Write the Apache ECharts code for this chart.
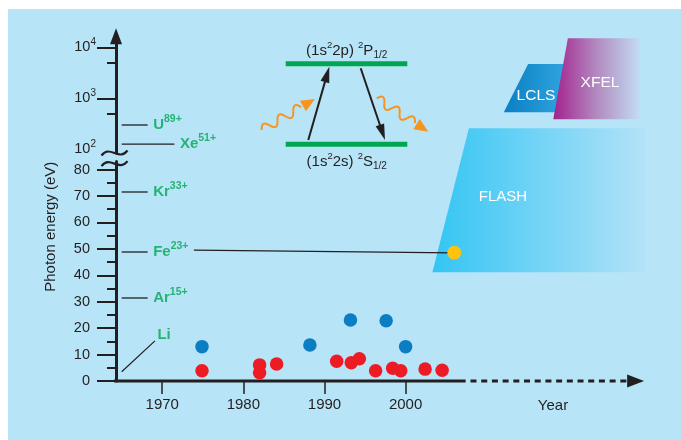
<!DOCTYPE html>
<html>
<head>
<meta charset="utf-8">
<script src="https://cdn.jsdelivr.net/npm/echarts@6/dist/echarts.min.js"></script>
<style>
  html, body { margin: 0; padding: 0; background: #fff; }
  #chart { width: 681px; height: 440px; }
</style>
</head>
<body>
<div id="chart"></div>
<script>
// x = year, y = photon energy (eV); linear below the break, log10 above it
const yearTicks = [1970, 1980, 1990, 2000];
const linTicks = [0, 10, 20, 30, 40, 50, 60, 70, 80];
const linMinor = [5, 15, 25, 35, 45, 55, 65, 75];
const logTicks = [2, 3, 4];          // labelled 10^2 .. 10^4
const logMajorTicks = [3, 4];
const logMinor = [500, 5000];

// measurements: red / blue dots, FLASH measurement (yellow)
const redPoints = [[1974.9, 3.9], [1982.0, 6.1], [1982.0, 3.1], [1984.1, 6.4], [1991.5, 7.5], [1993.3, 6.9],
                   [1994.3, 8.4], [1996.3, 3.9], [1998.4, 4.8], [1999.4, 3.9], [2002.4, 4.5], [2004.5, 4.1]];
const bluePoints = [[1974.9, 13.0], [1988.2, 13.6], [1993.2, 23.1], [1997.6, 22.8], [2000.0, 13.0]];
const flashPoint = [[2006.0, 48.5]];

// Li-like ions, 2s-2p transition energy (eV)
const ionNames = ['U', 'Xe', 'Kr', 'Fe', 'Ar'];
const ionCharges = ['89+', '51+', '33+', '23+', '15+'];
const ionEnergies = [300, 127, 71.5, 48.8, 31.4];
const ionLineStart = 1965.0;
const ionLineEnd = [1968.2, 1971.5, 1968.2, 1968.2, 1968.2];
const liLine = [[1965.0, 3.5], [1969.1, 15.2]];
const feLink = [[1973.9, 49.5], [2006.0, 48.5]];

// facility ranges (year, eV)
const flashRegion = [[2003.3, 41.1], [2007.8, 258], [2029.5, 258], [2029.5, 41.1]];
const lclsRegion = [[2012.1, 531], [2015.1, 4710], [2020.9, 4710], [2019.0, 531]];
const xfelRegion = [[2018.2, 387], [2020.0, 15000], [2028.9, 15000], [2028.9, 387]];

const X_MIN = 1964.3, X_MAX = 2030;
const LIN_MAX = 83;
const GREEN = '#00a651', INK = '#231f20', BG = '#b8e4f8';
const FONT = '"Liberation Sans", Arial, Helvetica, sans-serif';

function axesFor(e) {
  return e > LIN_MAX ? { xAxisIndex: 1, yAxisIndex: 2 } : { xAxisIndex: 0, yAxisIndex: 0 };
}
function yv(e) {
  return e > LIN_MAX ? Math.log10(e) : e;
}

const ionRich = {
  n: { fontFamily: FONT, fontSize: 15, fontWeight: 'bold', color: GREEN, lineHeight: 22 },
  c: { fontFamily: FONT, fontSize: 10.5, fontWeight: 'bold', color: GREEN, lineHeight: 10, verticalAlign: 'top' }
};

const series = [];

// x axis: solid part, then dashed continuation with arrow
series.push({
  type: 'line', xAxisIndex: 0, yAxisIndex: 0, silent: true, clip: false, symbol: 'none', z: 4,
  data: [[1961.96, 0], [2007.4, 0]],
  lineStyle: { color: INK, width: 3 }
});
series.push({
  type: 'line', xAxisIndex: 0, yAxisIndex: 0, silent: true, clip: false, symbol: 'none', z: 4,
  data: [[2008.0, 0], { value: [2028.35, 0], symbol: 'triangle', symbolSize: [13, 17], symbolRotate: -90 }],
  itemStyle: { color: INK },
  lineStyle: { color: INK, width: 3, type: [6, 4.7] }
});

// ion markers
ionNames.forEach(function (name, i) {
  const e = ionEnergies[i];
  const ax = axesFor(e);
  series.push(Object.assign({
    type: 'line', silent: true, clip: false, symbol: 'none', z: 3,
    data: [[ionLineStart, yv(e)], [ionLineEnd[i], yv(e)]],
    lineStyle: { color: INK, width: 1.3 }
  }, ax));
  series.push(Object.assign({
    type: 'scatter', silent: true, clip: false, symbolSize: 1, z: 3,
    itemStyle: { color: 'rgba(0,0,0,0)' },
    data: [[ionLineEnd[i], yv(e)]],
    label: {
      show: true, position: 'right', distance: 5,
      formatter: '{n|' + name + '}{c|' + ionCharges[i] + '}',
      rich: ionRich
    }
  }, ax));
});

series.push({
  type: 'line', xAxisIndex: 0, yAxisIndex: 0, silent: true, clip: false, symbol: 'none', z: 3,
  data: liLine, lineStyle: { color: INK, width: 1.2 }
});
series.push({
  type: 'scatter', xAxisIndex: 0, yAxisIndex: 0, silent: true, clip: false, symbolSize: 1, z: 3,
  itemStyle: { color: 'rgba(0,0,0,0)' },
  data: [liLine[1]],
  label: { show: true, position: 'right', distance: 2, offset: [0, -6], formatter: '{n|Li}', rich: ionRich }
});

series.push({
  type: 'line', xAxisIndex: 0, yAxisIndex: 0, silent: true, clip: false, symbol: 'none', z: 3,
  data: feLink, lineStyle: { color: INK, width: 1.2 }
});

series.push({
  type: 'scatter', xAxisIndex: 0, yAxisIndex: 0, silent: true, z: 5,
  data: bluePoints, symbolSize: 13.5, itemStyle: { color: '#0b7dc3', opacity: 1 }
});
series.push({
  type: 'scatter', xAxisIndex: 0, yAxisIndex: 0, silent: true, z: 5,
  data: redPoints, symbolSize: 13.5, itemStyle: { color: '#ed1c24', opacity: 1 }
});
series.push({
  type: 'scatter', xAxisIndex: 0, yAxisIndex: 0, silent: true, z: 6,
  data: flashPoint, symbolSize: 14, itemStyle: { color: '#ffc20e', opacity: 1 }
});

const tickStyle = { color: INK, width: 2 };

const option = {
  animation: false,
  backgroundColor: '#ffffff',
  grid: [
    { left: 116, right: 32, top: 161.6, bottom: 59 },
    { left: 116, right: 32, top: 36.3, height: 116.6 }
  ],
  xAxis: [
    {
      gridIndex: 0, type: 'value', min: X_MIN, max: X_MAX,
      axisLine: { show: false }, splitLine: { show: false },
      axisTick: { show: true, customValues: yearTicks, length: 13, lineStyle: { color: INK, width: 1.5 } },
      axisLabel: {
        show: true, customValues: yearTicks, margin: 16, color: INK, fontSize: 15, fontFamily: FONT,
        formatter: function (v) { return String(v); }
      }
    },
    { gridIndex: 1, type: 'value', min: X_MIN, max: X_MAX, show: false }
  ],
  yAxis: [
    {
      gridIndex: 0, type: 'value', position: 'left', min: 0, max: LIN_MAX,
      splitLine: { show: false },
      axisLine: { show: true, lineStyle: { color: INK, width: 3 } },
      axisTick: { show: true, customValues: linTicks, length: 19, lineStyle: tickStyle },
      axisLabel: { show: true, customValues: linTicks, margin: 26, color: INK, fontSize: 14.5, fontFamily: FONT }
    },
    {
      gridIndex: 0, type: 'value', position: 'left', min: 0, max: LIN_MAX,
      splitLine: { show: false }, axisLine: { show: false },
      axisTick: { show: true, customValues: linMinor, length: 9, lineStyle: tickStyle },
      axisLabel: { show: false }
    },
    {
      gridIndex: 1, type: 'value', position: 'left', min: 1.93, max: 4.216,
      splitLine: { show: false },
      axisLine: { show: true, symbol: ['none', 'triangle'], symbolSize: [12, 16], lineStyle: { color: INK, width: 3 } },
      axisTick: { show: true, customValues: logMajorTicks, length: 19, lineStyle: tickStyle },
      axisLabel: {
        show: true, customValues: logTicks, margin: 20,
        formatter: function (v) { return '{b|10}{s|' + v + '}'; },
        rich: {
          b: { fontSize: 14.5, lineHeight: 20, color: INK, fontFamily: FONT },
          s: { fontSize: 10, lineHeight: 12, verticalAlign: 'top', color: INK, fontFamily: FONT }
        }
      }
    },
    {
      gridIndex: 1, type: 'value', position: 'left', min: 1.93, max: 4.216,
      splitLine: { show: false }, axisLine: { show: false },
      axisTick: { show: true, customValues: logMinor.map(Math.log10), length: 9, lineStyle: tickStyle },
      axisLabel: { show: false }
    }
  ],
  series: series
};

const chart = echarts.init(document.getElementById('chart'));
chart.setOption(option);

function toPx(p) {
  const ax = axesFor(p[1]);
  return chart.convertToPixel(ax, [p[0], yv(p[1])]);
}

function region(points, stops, z) {
  return {
    type: 'polygon', silent: true, z: z,
    shape: { points: points.map(toPx) },
    style: { fill: new echarts.graphic.LinearGradient(0, 0, 1, 0, stops) }
  };
}

function arrow(x1, y1, x2, y2, headLen, headW, width, color) {
  const len = Math.hypot(x2 - x1, y2 - y1);
  return {
    type: 'group', x: x1, y: y1, rotation: Math.atan2(-(y2 - y1), x2 - x1), silent: true, z: 5,
    children: [
      { type: 'line', shape: { x1: 0, y1: 0, x2: len - headLen + 1, y2: 0 }, style: { stroke: color, lineWidth: width } },
      { type: 'polygon', shape: { points: [[len - headLen, -headW / 2], [len, 0], [len - headLen, headW / 2]] }, style: { fill: color } }
    ]
  };
}

// wavy photon arrow, built from half-wave bezier pieces
function waveArrow(x1, y1, x2, y2) {
  const len = Math.hypot(x2 - x1, y2 - y1);
  const halves = 5, step = (len - 16) / halves;
  const children = [];
  for (let i = 0; i < halves; i++) {
    children.push({
      type: 'bezierCurve',
      shape: { x1: i * step, y1: 0, x2: (i + 1) * step, y2: 0, cpx1: (i + 0.5) * step, cpy1: i % 2 ? 9 : -9 },
      style: { stroke: '#f7941d', lineWidth: 2, fill: null }
    });
  }
  children.push({ type: 'polygon', shape: { points: [[len - 14, -6], [len, 0], [len - 14, 6]] }, style: { fill: '#f7941d' } });
  return {
    type: 'group', x: x1, y: y1, rotation: Math.atan2(-(y2 - y1), x2 - x1), silent: true, z: 5,
    children: children
  };
}

function breakMark(dy) {
  return {
    type: 'bezierCurve', silent: true, z: 9,
    shape: { x1: 101.5, y1: 155.5 + dy, x2: 127.5, y2: 150.5 + dy, cpx1: 110, cpy1: 144 + dy, cpx2: 119, cpy2: 162 + dy },
    style: { stroke: INK, lineWidth: 2.2, fill: null }
  };
}

const levelRich = {
  m: { fontSize: 15, lineHeight: 20, fill: INK, fontFamily: FONT },
  u: { fontSize: 9.5, lineHeight: 13, verticalAlign: 'top', fill: INK, fontFamily: FONT },
  d: { fontSize: 10, lineHeight: 10, verticalAlign: 'bottom', fill: INK, fontFamily: FONT }
};

function label(text, x, y, size, color, extra) {
  return Object.assign({
    type: 'text', x: x, y: y, silent: true, z: 6,
    style: {
      text: text, fill: color, fontSize: size, fontFamily: FONT,
      align: 'center', verticalAlign: 'middle', textAlign: 'center', textVerticalAlign: 'middle'
    }
  }, extra || {});
}

chart.setOption({
  graphic: [
    { type: 'rect', silent: true, z: -100, shape: { x: 8, y: 9, width: 700, height: 440 }, style: { fill: BG } },

    region(flashRegion, [{ offset: 0, color: '#33c5f3' }, { offset: 1, color: '#b3e2f8' }], -5),
    region(lclsRegion, [{ offset: 0, color: '#0a7fc3' }, { offset: 1, color: '#35aae2' }], -5),
    region(xfelRegion, [{ offset: 0, color: '#a3228e' }, { offset: 0.5, color: '#b28ac0' }, { offset: 1, color: '#c2ddf3' }], -4),
    label('FLASH', 503, 197, 15, '#ffffff'),
    label('LCLS', 536, 96, 15.5, '#ffffff'),
    label('XFEL', 600, 83, 15.5, '#ffffff'),

    // axis break
    breakMark(0),
    breakMark(10.6),

    label('Photon energy (eV)', 51, 226.7, 15, INK, { rotation: Math.PI / 2 }),
    label('Year', 553, 406, 15, INK),

    // level scheme
    { type: 'rect', silent: true, z: 5, shape: { x: 285.7, y: 61.2, width: 121.6, height: 5 }, style: { fill: GREEN } },
    { type: 'rect', silent: true, z: 5, shape: { x: 285.7, y: 141.8, width: 121.6, height: 5 }, style: { fill: GREEN } },
    {
      type: 'text', x: 346.7, y: 50.7, silent: true, z: 6,
      style: {
        text: '{m|(1s}{u|2}{m|2p) }{u|2}{m|P}{d|1/2}', rich: levelRich,
        align: 'center', verticalAlign: 'middle', textAlign: 'center', textVerticalAlign: 'middle'
      }
    },
    {
      type: 'text', x: 346.7, y: 161.7, silent: true, z: 6,
      style: {
        text: '{m|(1s}{u|2}{m|2s) }{u|2}{m|S}{d|1/2}', rich: levelRich,
        align: 'center', verticalAlign: 'middle', textAlign: 'center', textVerticalAlign: 'middle'
      }
    },
    arrow(308.3, 140, 329.3, 66.7, 16, 9, 2, INK),
    arrow(360.7, 68.3, 385, 140, 16, 9, 2, INK),
    waveArrow(261.7, 130, 315, 99),
    waveArrow(376.7, 98.3, 428.3, 131.7)
  ]
});
</script>
</body>
</html>
